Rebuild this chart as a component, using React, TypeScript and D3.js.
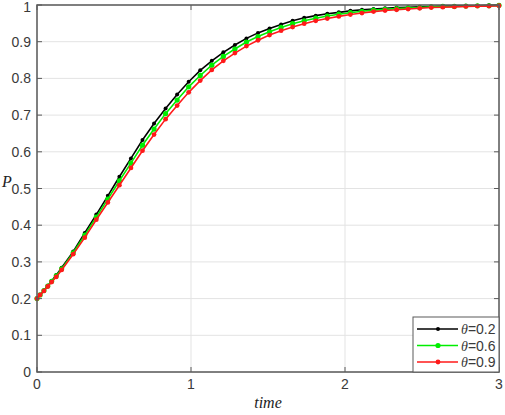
import { line, scaleLinear } from "d3";

const WIDTH = 505
const HEIGHT = 415
const MARGIN = { top: 5, left: 37, bottom: 43, right: 6 }

// solver output times (markers)
const TIME = [0, 0.02, 0.045, 0.07, 0.095, 0.125, 0.16, 0.235, 0.31, 0.385, 0.46, 0.535, 0.61, 0.685, 0.76, 0.835, 0.91, 0.985, 1.06, 1.135, 1.21, 1.285, 1.36, 1.435, 1.51, 1.585, 1.66, 1.735, 1.81, 1.885, 1.96, 2.035, 2.11, 2.185, 2.26, 2.335, 2.41, 2.485, 2.56, 2.635, 2.71, 2.785, 2.86, 2.935, 3.0]

const P_02 = [0.200, 0.210, 0.222, 0.235, 0.248, 0.264, 0.284, 0.328, 0.379, 0.429, 0.480, 0.532, 0.582, 0.632, 0.677, 0.718, 0.756, 0.791, 0.822, 0.848, 0.871, 0.891, 0.909, 0.924, 0.936, 0.947, 0.957, 0.965, 0.971, 0.976, 0.980, 0.984, 0.987, 0.989, 0.991, 0.993, 0.994, 0.995, 0.996, 0.997, 0.997, 0.998, 0.998, 0.999, 0.999]
const P_06 = [0.200, 0.210, 0.222, 0.234, 0.247, 0.262, 0.281, 0.325, 0.373, 0.422, 0.471, 0.521, 0.569, 0.618, 0.662, 0.704, 0.741, 0.777, 0.808, 0.836, 0.860, 0.880, 0.899, 0.914, 0.927, 0.939, 0.949, 0.957, 0.964, 0.970, 0.975, 0.979, 0.983, 0.986, 0.988, 0.990, 0.992, 0.993, 0.995, 0.996, 0.996, 0.997, 0.998, 0.998, 0.999]
const P_09 = [0.200, 0.210, 0.221, 0.233, 0.245, 0.259, 0.278, 0.321, 0.366, 0.415, 0.462, 0.509, 0.556, 0.603, 0.647, 0.689, 0.726, 0.762, 0.794, 0.823, 0.848, 0.869, 0.888, 0.904, 0.918, 0.930, 0.940, 0.949, 0.957, 0.963, 0.969, 0.974, 0.978, 0.982, 0.985, 0.987, 0.989, 0.991, 0.993, 0.994, 0.995, 0.996, 0.997, 0.997, 0.998]

const X_TICKS = [0, 1, 2, 3]
const Y_TICKS = [0, 0.1, 0.2, 0.3, 0.4, 0.5, 0.6, 0.7, 0.8, 0.9, 1]
const THETAS = ["0.2", "0.6", "0.9"]

const SERIES = [
    { name: THETAS[0], values: P_02, color: '#000000', r: 2 },
    { name: THETAS[1], values: P_06, color: '#00ee00', r: 2.6 },
    { name: THETAS[2], values: P_09, color: '#ff1a1a', r: 2.4 },
]

function App() {
    const boundsWidth = WIDTH - MARGIN.left - MARGIN.right
    const boundsHeight = HEIGHT - MARGIN.top - MARGIN.bottom

    const xScale = scaleLinear().domain([0, 3]).range([0, boundsWidth])
    const yScale = scaleLinear().domain([0, 1]).range([boundsHeight, 0])

    const linePath = line<number>()
        .x((d, i) => xScale(TIME[i]))
        .y((d) => yScale(d))

    const axisColor = '#5a5a5a'
    const tickFont = '"Liberation Sans", Arial, sans-serif'

    const grid = (
        <g>
            {Y_TICKS.map((v, i) => (
                <line key={'gy' + i} x1={0} x2={boundsWidth} y1={yScale(v)} y2={yScale(v)} stroke='#e3e3e3' strokeWidth={1} />
            ))}
            {X_TICKS.map((v, i) => (
                <line key={'gx' + i} x1={xScale(v)} x2={xScale(v)} y1={0} y2={boundsHeight} stroke='#e3e3e3' strokeWidth={1} />
            ))}
        </g>
    )

    const yTicks = Y_TICKS.map((v, i) => (
        <g key={'yt' + i}>
            <line x1={0} x2={5} y1={yScale(v)} y2={yScale(v)} stroke={axisColor} />
            <line x1={boundsWidth} x2={boundsWidth - 5} y1={yScale(v)} y2={yScale(v)} stroke={axisColor} />
            <text x={-6} y={Math.max(yScale(v), 1.5)} dy='0.36em' textAnchor='end' fontSize={14} fill='#3a3a3a' fontFamily={tickFont}>
                {String(v)}
            </text>
        </g>
    ))

    const xTicks = X_TICKS.map((v, i) => (
        <g key={'xt' + i}>
            <line x1={xScale(v)} x2={xScale(v)} y1={boundsHeight} y2={boundsHeight - 5} stroke={axisColor} />
            <line x1={xScale(v)} x2={xScale(v)} y1={0} y2={5} stroke={axisColor} />
            <text x={xScale(v)} y={boundsHeight + 17} textAnchor='middle' fontSize={14} fill='#3a3a3a' fontFamily={tickFont}>
                {String(v)}
            </text>
        </g>
    ))

    const lines = SERIES.map((s) => (
        <g key={s.name}>
            <path d={linePath(s.values) || ''} fill='none' stroke={s.color} strokeWidth={1.6} />
            {s.values.map((v, i) => (
                <circle key={i} cx={xScale(TIME[i])} cy={yScale(v)} r={s.r} fill={s.color} />
            ))}
        </g>
    ))

    const legendX = boundsWidth - 86
    const legendY = boundsHeight - 55
    const legend = (
        <g transform={`translate(${legendX},${legendY})`}>
            <rect x={0} y={0} width={86} height={55} fill='#ffffff' stroke={axisColor} strokeWidth={1} />
            {SERIES.map((s, i) => (
                <g key={'lg' + s.name} transform={`translate(0,${12 + i * 16.5})`}>
                    <line x1={4} x2={45} y1={0} y2={0} stroke={s.color} strokeWidth={1.6} />
                    <circle cx={25} cy={0} r={s.r} fill={s.color} />
                    <text x={48} y={0} dy='0.36em' fontSize={14} fill='#3a3a3a' fontFamily={tickFont}>
                        <tspan fontStyle='italic' fontFamily='"Liberation Serif", serif'>θ</tspan>
                        {'=' + s.name}
                    </text>
                </g>
            ))}
        </g>
    )

    return (
        <div style={{ position: 'absolute', left: 0, top: 0, width: WIDTH, height: HEIGHT, background: '#ffffff' }}>
            <svg width={WIDTH} height={HEIGHT} viewBox={`0 0 ${WIDTH} ${HEIGHT}`}>
                <rect width={WIDTH} height={HEIGHT} fill='#ffffff' />
                <g transform={`translate(${MARGIN.left},${MARGIN.top})`}>
                    {grid}
                    {lines}
                    <rect x={0} y={0} width={boundsWidth} height={boundsHeight} fill='none' stroke={axisColor} strokeWidth={1.5} />
                    {yTicks}
                    {xTicks}
                    {legend}
                    <text x={boundsWidth / 2} y={boundsHeight + 36} textAnchor='middle' fontSize={16} fontStyle='italic' fill='#222' fontFamily='"Liberation Serif", "DejaVu Serif", serif'>
                        time
                    </text>
                    <text x={-35} y={yScale(0.505)} fontSize={16} fontStyle='italic' fill='#222' fontFamily='"Liberation Serif", "DejaVu Serif", serif'>
                        P
                    </text>
                </g>
            </svg>
        </div>
    )
}

export default App
